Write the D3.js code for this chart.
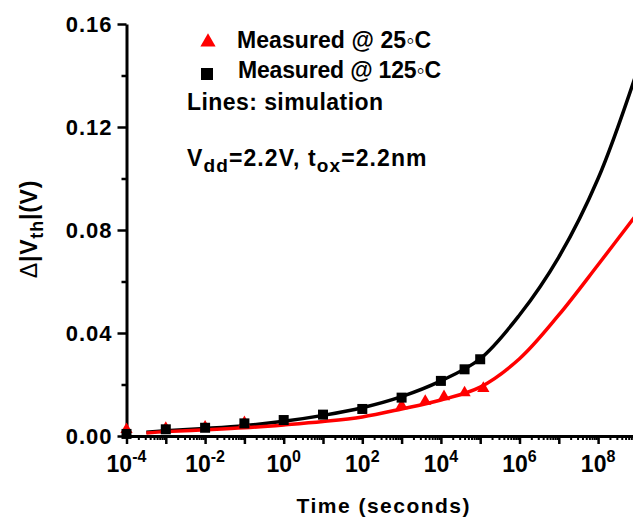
<!DOCTYPE html>
<html>
<head>
<meta charset="utf-8">
<script src="https://cdn.jsdelivr.net/npm/d3@7"></script>
<style>
body { margin: 0; background: #fff; }
text { font-family: Arial, "Liberation Sans", sans-serif; font-weight: bold; fill: #000; }
</style>
</head>
<body>
<div id="chart"></div>
<script>
// tick labels
const xExponents = [-4, -2, 0, 2, 4, 6, 8]
const yTicks = [0, 0.04, 0.08, 0.12, 0.16]
const yMinor = [0.02, 0.06, 0.10, 0.14]

// simulation lines
const simTime = [3.2e-4, 1e-3, 1e-2, 1e-1, 1, 1e1, 1e2, 1e3, 1e4, 1e5, 1e6, 1e7, 1e8, 1e9]
const sim125 = [0.0015, 0.0020, 0.0029, 0.0040, 0.0057, 0.0080, 0.0110, 0.0153, 0.0214, 0.0300, 0.0470, 0.0695, 0.1000, 0.1420]
const sim25 = [0.0012, 0.0017, 0.0024, 0.0032, 0.0043, 0.0056, 0.0074, 0.0105, 0.0140, 0.0190, 0.0300, 0.0470, 0.0665, 0.0865]

// measured points
const time125 = [1e-4, 1e-3, 1e-2, 1e-1, 1, 1e1, 1e2, 1e3, 1e4, 4e4, 1e5]
const meas125 = [0.0008, 0.0026, 0.0032, 0.0049, 0.0062, 0.0083, 0.0105, 0.0149, 0.0214, 0.0259, 0.0298]
const time25 = [1e-4, 1e-3, 1e-2, 1e-1, 1e3, 4e3, 1.2e4, 4e4, 1.2e5]
const meas25 = [0.0025, 0.0030, 0.0035, 0.0052, 0.0118, 0.0135, 0.0153, 0.0168, 0.0185]

const W = 633, H = 521

const svg = d3.select('#chart').append('svg')
    .attr('width', W)
    .attr('height', H)

const x = d3.scaleLog().domain([1e-4, 1e9]).range([126.5, 637.4])
const y = d3.scaleLinear().domain([0, 0.16]).range([436, 24])

// y axis
const yAxis = svg.append('g')
    .attr('transform', 'translate(126.5,0)')
    .call(d3.axisLeft(y).tickValues(yTicks).tickSize(9).tickSizeOuter(0).tickPadding(5)
        .tickFormat(d3.format('.2f')))
yAxis.select('.domain').attr('stroke-width', 3)
yAxis.selectAll('.tick line').attr('stroke-width', 2.5)
yAxis.selectAll('.tick text')
    .style('font-size', '22px')
    .style('letter-spacing', '1px')

const yAxisMinor = svg.append('g')
    .attr('transform', 'translate(126.5,0)')
    .call(d3.axisLeft(y).tickValues(yMinor).tickSize(5).tickFormat(''))
yAxisMinor.select('.domain').remove()
yAxisMinor.selectAll('.tick line').attr('stroke-width', 2.5)

// x axis
let decades = d3.range(-4, 10).map(k => Math.pow(10, k))
let minors = []
d3.range(-4, 9).forEach(k => {
    for (let m = 2; m < 10; m++) minors.push(m * Math.pow(10, k))
})

const xAxis = svg.append('g')
    .attr('transform', 'translate(0,436)')
    .call(d3.axisBottom(x).tickValues(decades).tickSize(8).tickSizeOuter(0).tickFormat(''))
xAxis.select('.domain').attr('stroke-width', 3)
xAxis.selectAll('.tick line').attr('stroke-width', 2.5)

const xAxisMinor = svg.append('g')
    .attr('transform', 'translate(0,436)')
    .call(d3.axisBottom(x).tickValues(minors).tickSize(4).tickFormat(''))
xAxisMinor.select('.domain').remove()
xAxisMinor.selectAll('.tick line').attr('stroke-width', 2)

let xLabels = svg.append('g')
    .selectAll('text')
    .data(xExponents)
    .enter().append('text')
    .attr('x', d => x(Math.pow(10, d)))
    .attr('y', 472)
    .attr('text-anchor', 'middle')
    .style('font-size', '23px')
xLabels.append('tspan').text('10')
xLabels.append('tspan')
    .attr('dy', -10)
    .style('font-size', '16px')
    .text(d => d < 0 ? '-' + (-d) : d)

// axis titles
svg.append('text')
    .attr('x', 383)
    .attr('y', 513)
    .attr('text-anchor', 'middle')
    .style('font-size', '21px')
    .attr('textLength', 173)
    .text('Time (seconds)')

let yTitle = svg.append('text')
    .attr('transform', 'translate(37,229) rotate(-90)')
    .attr('text-anchor', 'middle')
    .style('font-size', '23px')
    .style('letter-spacing', '0.8px')
yTitle.append('tspan').style('font-weight', 'normal').text('Δ')
yTitle.append('tspan').text('|V')
yTitle.append('tspan').attr('dy', 6).style('font-size', '18px').text('th')
yTitle.append('tspan').attr('dy', -6).text('|(V)')

// simulation lines
const line = vals => d3.line()
    .x((d, i) => x(simTime[i]))
    .y(d => y(d))
    .curve(d3.curveCatmullRom.alpha(0.5))(vals)

svg.append('path')
    .attr('d', line(sim125))
    .attr('fill', 'none')
    .attr('stroke', '#000')
    .attr('stroke-width', 3.5)

svg.append('path')
    .attr('d', line(sim25))
    .attr('fill', 'none')
    .attr('stroke', '#ff0000')
    .attr('stroke-width', 3.5)

// measured markers
svg.append('g').selectAll('path')
    .data(meas25)
    .enter().append('path')
    .attr('d', d3.symbol().type(d3.symbolTriangle).size(65))
    .attr('transform', (d, i) => 'translate(' + x(time25[i]) + ',' + y(d) + ')')
    .attr('fill', '#ff0000')

svg.append('g').selectAll('rect')
    .data(meas125)
    .enter().append('rect')
    .attr('x', (d, i) => x(time125[i]) - 5)
    .attr('y', d => y(d) - 5)
    .attr('width', 10)
    .attr('height', 10)
    .attr('fill', '#000')

// legend
svg.append('path')
    .attr('d', d3.symbol().type(d3.symbolTriangle).size(100)())
    .attr('transform', 'translate(208,42)')
    .attr('fill', '#ff0000')
svg.append('rect')
    .attr('x', 201).attr('y', 68)
    .attr('width', 12).attr('height', 12)
    .attr('fill', '#000')

let legendText = [
    ['Measured @ 25◦C', 237, 48, 194],
    ['Measured @ 125◦C', 238, 78, 203],
    ['Lines: simulation', 187, 110, 196]
]
svg.append('g').selectAll('text')
    .data(legendText)
    .enter().append('text')
    .attr('x', d => d[1])
    .attr('y', d => d[2])
    .attr('textLength', d => d[3])
    .style('font-size', '23px')
    .text(d => d[0])

let cond = svg.append('text')
    .attr('x', 187)
    .attr('y', 166)
    .style('font-size', '23px')
    .style('letter-spacing', '1.1px')
cond.append('tspan').text('V')
cond.append('tspan').attr('dy', 6).style('font-size', '19px').text('dd')
cond.append('tspan').attr('dy', -6).text('=2.2V, t')
cond.append('tspan').attr('dy', 6).style('font-size', '19px').text('ox')
cond.append('tspan').attr('dy', -6).text('=2.2nm')
</script>
</body>
</html>
